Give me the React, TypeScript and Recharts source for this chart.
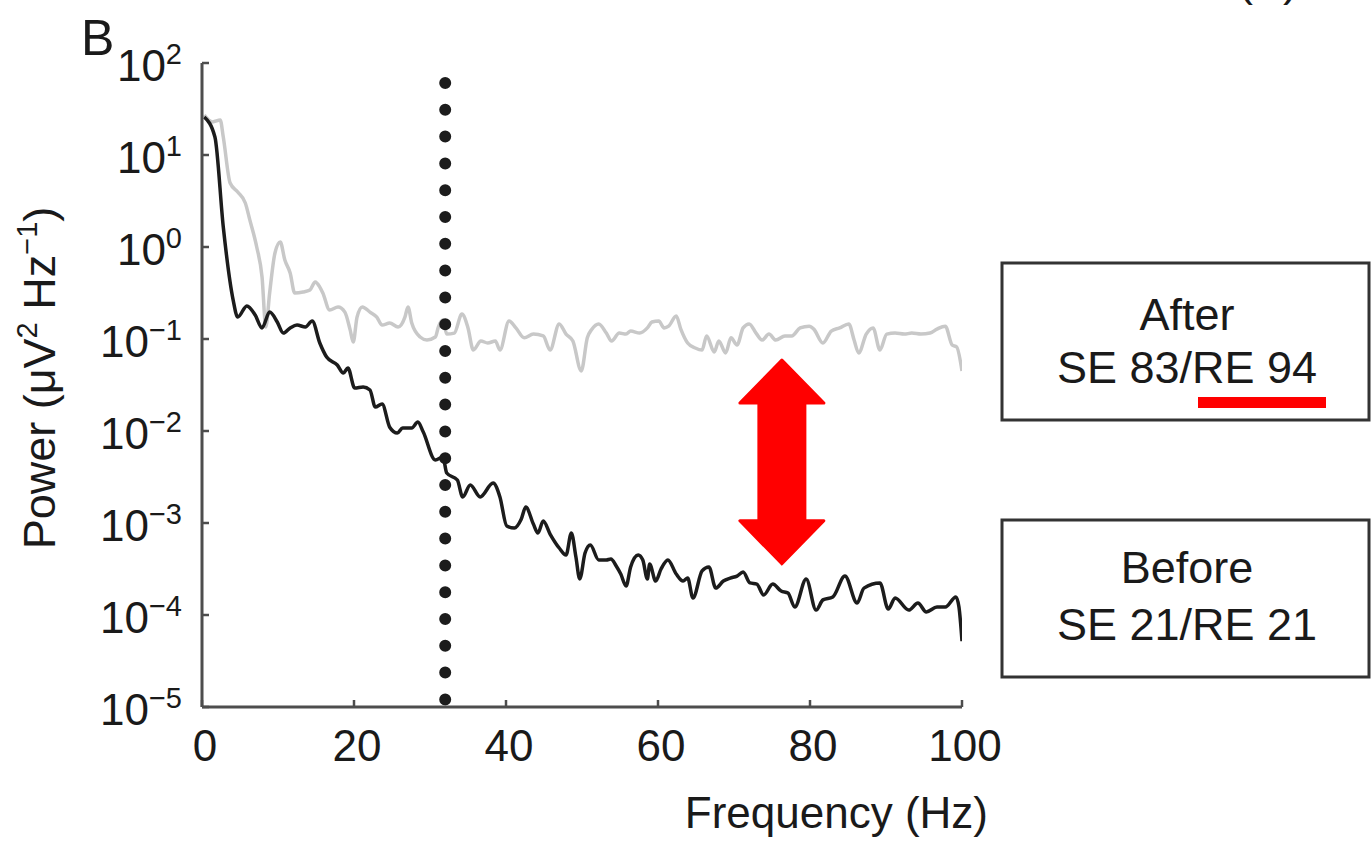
import React from 'react';
import { LineChart, Line, XAxis, YAxis, ReferenceLine, Label } from 'recharts';

// After stimulation (grey trace)
const afterFreq = [
  0.3, 1.4, 2.4, 2.8, 3.7, 4.7, 5.7, 6.3, 7.2, 7.9, 8.4, 8.9, 9.6, 10.3, 10.9, 11.6, 12.2, 13.3, 14.2, 14.9,
  15.5, 15.9, 16.8, 17.9, 18.8, 19.5, 19.9, 20.4, 21.1, 22.1, 23.0, 23.7, 24.7, 25.8, 26.7, 27.1, 27.6, 28.7,
  29.6, 30.7, 31.1, 31.7, 32.2, 33.2, 34.2, 35.0, 35.7, 36.7, 37.6, 38.6, 39.2, 40.4, 41.3, 42.4, 43.6, 44.9,
  45.8, 47.0, 47.9, 48.8, 49.9, 50.7, 51.3, 52.2, 53.2, 53.9, 54.9, 55.8, 56.4, 57.6, 58.6, 59.2, 60.1, 60.8,
  61.4, 62.4, 63.0, 63.9, 64.9, 65.8, 66.4, 67.4, 68.0, 68.9, 69.6, 70.4, 71.2, 72.0, 72.9, 73.7, 74.6, 75.5,
  76.7, 77.6, 78.7, 79.9, 80.5, 81.7, 82.8, 83.9, 85.1, 85.8, 86.4, 87.4, 88.3, 89.2, 90.1, 91.2, 92.4, 93.4,
  94.6, 95.8, 96.7, 97.8, 98.7, 99.3, 100,
];
const afterPower = [
  27.2, 22.9, 24.0, 15.7, 4.96, 3.96, 3.01, 1.96, 1.0, 0.472, 0.135, 0.316, 0.861, 1.13, 0.722, 0.522, 0.316, 0.324, 0.341, 0.417,
  0.367, 0.316, 0.207, 0.223, 0.196, 0.125, 0.0927, 0.173, 0.223, 0.196, 0.173, 0.142, 0.149, 0.135, 0.173, 0.223, 0.149, 0.105,
  0.0975, 0.105, 0.135, 0.161, 0.113, 0.116, 0.187, 0.132, 0.0759, 0.0951, 0.0905, 0.0951, 0.0759, 0.157, 0.132, 0.103, 0.113, 0.108,
  0.0759, 0.146, 0.113, 0.0951, 0.0449, 0.103, 0.128, 0.146, 0.116, 0.0951, 0.116, 0.113, 0.122, 0.116, 0.132, 0.153, 0.157, 0.132,
  0.138, 0.178, 0.128, 0.0905, 0.0798, 0.0759, 0.108, 0.0722, 0.0951, 0.0705, 0.103, 0.0861, 0.132, 0.146, 0.116, 0.0975, 0.113, 0.0975,
  0.108, 0.108, 0.132, 0.138, 0.128, 0.0905, 0.122, 0.132, 0.146, 0.0975, 0.0705, 0.113, 0.132, 0.0759, 0.113, 0.116, 0.113, 0.116,
  0.113, 0.116, 0.128, 0.138, 0.0861, 0.0818, 0.0449,
];

// Before stimulation (black trace)
const beforeFreq = [
  0.3, 1.7, 2.8, 4.1, 4.7, 5.9, 7.0, 7.9, 8.9, 9.9, 10.7, 11.6, 12.5, 13.6, 14.5, 15.5, 16.4, 17.8, 18.6, 19.2,
  20.1, 21.2, 22.1, 22.8, 23.7, 24.7, 25.7, 26.4, 27.6, 28.4, 29.1, 30.7, 31.7, 32.2, 33.6, 34.3, 35.3, 36.6,
  38.3, 39.2, 40.1, 41.1, 42.0, 42.6, 43.6, 44.2, 44.9, 45.8, 47.0, 47.9, 48.6, 49.2, 49.7, 50.4, 51.1, 52.2,
  53.2, 53.8, 54.5, 55.1, 55.8, 56.4, 57.4, 58.0, 58.6, 58.9, 59.7, 60.4, 61.3, 62.4, 63.3, 63.9, 64.6, 65.8,
  66.7, 67.6, 68.6, 69.5, 70.4, 71.2, 72.1, 73.0, 73.9, 75.1, 76.2, 77.1, 78.0, 79.5, 80.8, 81.7, 83.0, 84.6,
  86.2, 87.1, 89.2, 90.3, 91.2, 93.0, 94.2, 95.3, 96.7, 97.8, 99.2, 99.6, 100,
];
const beforePower = [
  25.9, 15.7, 1.65, 0.265, 0.173, 0.229, 0.182, 0.132, 0.196, 0.153, 0.116, 0.132, 0.142, 0.135, 0.157, 0.0905, 0.0637, 0.0522, 0.0427, 0.0484,
  0.0293, 0.0301, 0.0279, 0.0182, 0.0197, 0.011, 0.0095, 0.0108, 0.0108, 0.0125, 0.0098, 0.00484, 0.00522, 0.00349, 0.00293, 0.00192, 0.00259, 0.00192,
  0.00272, 0.00192, 9.27e-4, 8.83e-4, 1.1e-3, 1.49e-3, 9.75e-4, 7.78e-4, 1.05e-3, 7.59e-4, 5.35e-4, 4.49e-4, 7.78e-4, 4.27e-4, 2.46e-4, 4.72e-4, 5.77e-4, 3.96e-4,
  3.96e-4, 4.06e-4, 3.41e-4, 2.79e-4, 2.07e-4, 3.33e-4, 4.49e-4, 3.96e-4, 2.46e-4, 3.58e-4, 2.34e-4, 3.16e-4, 3.96e-4, 2.79e-4, 2.34e-4, 2.52e-4, 1.53e-4, 3.01e-4,
  3.33e-4, 1.96e-4, 2.34e-4, 2.52e-4, 2.65e-4, 2.93e-4, 2.23e-4, 2.17e-4, 1.65e-4, 2.17e-4, 1.82e-4, 1.73e-4, 1.22e-4, 2.46e-4, 1.13e-4, 1.46e-4, 1.57e-4, 2.65e-4,
  1.35e-4, 1.96e-4, 2.23e-4, 1.16e-4, 1.53e-4, 1.13e-4, 1.35e-4, 1.08e-4, 1.22e-4, 1.22e-4, 1.57e-4, 1.22e-4, 5.2e-5,
];

const freqTicks = [0, 20, 40, 60, 80, 100];
const powerExponents = [-5, -4, -3, -2, -1, 0, 1, 2];
const powerTicks = [1e-5, 1e-4, 1e-3, 1e-2, 1e-1, 1, 10, 100];

const cutoffFreq = 32;
const arrowFreq = 76.3;
const arrowTop = 0.059;
const arrowBottom = 3.6e-4;

const afterData = afterFreq.map((f, i) => ({ f, p: afterPower[i] }));
const beforeData = beforeFreq.map((f, i) => ({ f, p: beforePower[i] }));

const FONT = '"Liberation Sans", Arial, Helvetica, sans-serif';
const TEXT = '#1a1a1a';
const AXIS = '#4d4d4d';

const PowerTick = (props: any) => {
  const { x, y, payload, index } = props;
  const exp = powerExponents[index] ?? Math.round(Math.log10(payload.value));
  const sup = exp < 0 ? '\u2212' + Math.abs(exp) : String(exp);
  return (
    <text x={x} y={y} textAnchor="end" fill={TEXT} fontFamily={FONT}>
      <tspan dy={18} fontSize={44}>10</tspan>
      <tspan dy={-17} fontSize={29}>{sup}</tspan>
    </text>
  );
};

const FreqTick = (props: any) => {
  const { x, y, payload } = props;
  return (
    <text x={x + 3} y={y} textAnchor="middle" fill={TEXT} fontFamily={FONT} fontSize={44} dy={47}>
      {payload.value}
    </text>
  );
};

const DoubleArrow = (props: any) => {
  const { x1, y1, x2, y2 } = props;
  const cx = (x1 + x2) / 2;
  const top = Math.min(y1, y2);
  const bottom = Math.max(y1, y2);
  const head = 43;
  const halfHead = 42;
  const halfShaft = 23;
  const pts = [
    [cx, top],
    [cx + halfHead, top + head],
    [cx + halfShaft, top + head],
    [cx + halfShaft, bottom - head],
    [cx + halfHead, bottom - head],
    [cx, bottom],
    [cx - halfHead, bottom - head],
    [cx - halfShaft, bottom - head],
    [cx - halfShaft, top + head],
    [cx - halfHead, top + head],
  ];
  return (
    <polygon
      points={pts.map(p => p.join(',')).join(' ')}
      fill="#ff0000"
      stroke="#ff0000"
      strokeWidth={3}
      strokeLinejoin="round"
    />
  );
};

const App: React.FC = () => {
  return (
    <div style={{ position: 'absolute', left: 0, top: 0, width: 1371, height: 841, background: '#fff' }}>
      <LineChart
        width={1371}
        height={841}
        margin={{ top: 63, right: 409, bottom: 74, left: 102 }}
      >
        <XAxis
          type="number"
          dataKey="f"
          domain={[0, 100]}
          ticks={freqTicks}
          allowDataOverflow
          height={60}
          axisLine={{ stroke: AXIS, strokeWidth: 3 }}
          tickLine={{ stroke: AXIS, strokeWidth: 2.5 }}
          tickSize={-7}
          tickMargin={14}
          tick={<FreqTick />}
        >
          <Label
            content={(p: any) => {
              const vb = p.viewBox;
              return (
                <text x={vb.x + vb.width + 26} y={vb.y + 121} textAnchor="end" fill={TEXT} fontFamily={FONT} fontSize={44}>
                  Frequency (Hz)
                </text>
              );
            }}
          />
        </XAxis>
        <YAxis
          type="number"
          scale="log"
          domain={[1e-5, 100]}
          ticks={powerTicks}
          allowDataOverflow
          width={100}
          axisLine={{ stroke: AXIS, strokeWidth: 3 }}
          tickLine={{ stroke: AXIS, strokeWidth: 2.5 }}
          tickSize={-7}
          tickMargin={27}
          tick={<PowerTick />}
          interval={0}
        >
          <Label
            content={(p: any) => {
              const vb = p.viewBox;
              const cx = vb.x - 47;
              const cy = vb.y + vb.height / 2 - 7;
              return (
                <text
                  x={cx}
                  y={cy}
                  transform={`rotate(-90 ${cx} ${cy})`}
                  textAnchor="middle"
                  fill={TEXT}
                  fontFamily={FONT}
                  fontSize={45}
                >
                  <tspan>Power (μV</tspan>
                  <tspan fontSize={29} dy={-18}>2</tspan>
                  <tspan dy={18}> Hz</tspan>
                  <tspan fontSize={29} dy={-18}>{'\u2212'}1</tspan>
                  <tspan dy={18}>)</tspan>
                </text>
              );
            }}
          />
        </YAxis>
        <Line
          data={afterData}
          dataKey="p"
          type="monotone"
          stroke="#c8c8c8"
          strokeWidth={3.5}
          strokeLinejoin="round"
          dot={false}
          isAnimationActive={false}
        />
        <Line
          data={beforeData}
          dataKey="p"
          type="monotone"
          stroke="#1c1c1c"
          strokeWidth={3.5}
          strokeLinejoin="round"
          dot={false}
          isAnimationActive={false}
        />
        <ReferenceLine
          x={cutoffFreq}
          stroke="#1c1c1c"
          strokeWidth={12}
          strokeLinecap="round"
          strokeDasharray="0 26.8"
          strokeDashoffset={19.2}
        />
        <ReferenceLine
          segment={[{ x: arrowFreq, y: arrowTop }, { x: arrowFreq, y: arrowBottom }]}
          shape={<DoubleArrow />}
        />
      </LineChart>
      <svg
        width={1371}
        height={841}
        style={{ position: 'absolute', left: 0, top: 0, pointerEvents: 'none' }}
        fontFamily={FONT}
      >
        <text x={81} y={55} fontSize={50} fill={TEXT}>B</text>
        <text x={1238} y={-4} fontSize={45} fill={TEXT}>(A)</text>
        <rect x={1002} y={263} width={367} height={157} fill="none" stroke="#333" strokeWidth={3} />
        <text x={1187} y={330} fontSize={45} textAnchor="middle" fill={TEXT}>After</text>
        <text x={1187} y={383} fontSize={45} textAnchor="middle" fill={TEXT}>SE 83/RE 94</text>
        <rect x={1198} y={397} width={128} height={11} fill="#ff0000" />
        <rect x={1002} y={520} width={367} height={157} fill="none" stroke="#333" strokeWidth={3} />
        <text x={1187} y={583} fontSize={45} textAnchor="middle" fill={TEXT}>Before</text>
        <text x={1187} y={640} fontSize={45} textAnchor="middle" fill={TEXT}>SE 21/RE 21</text>
      </svg>
    </div>
  );
};

export default App;
